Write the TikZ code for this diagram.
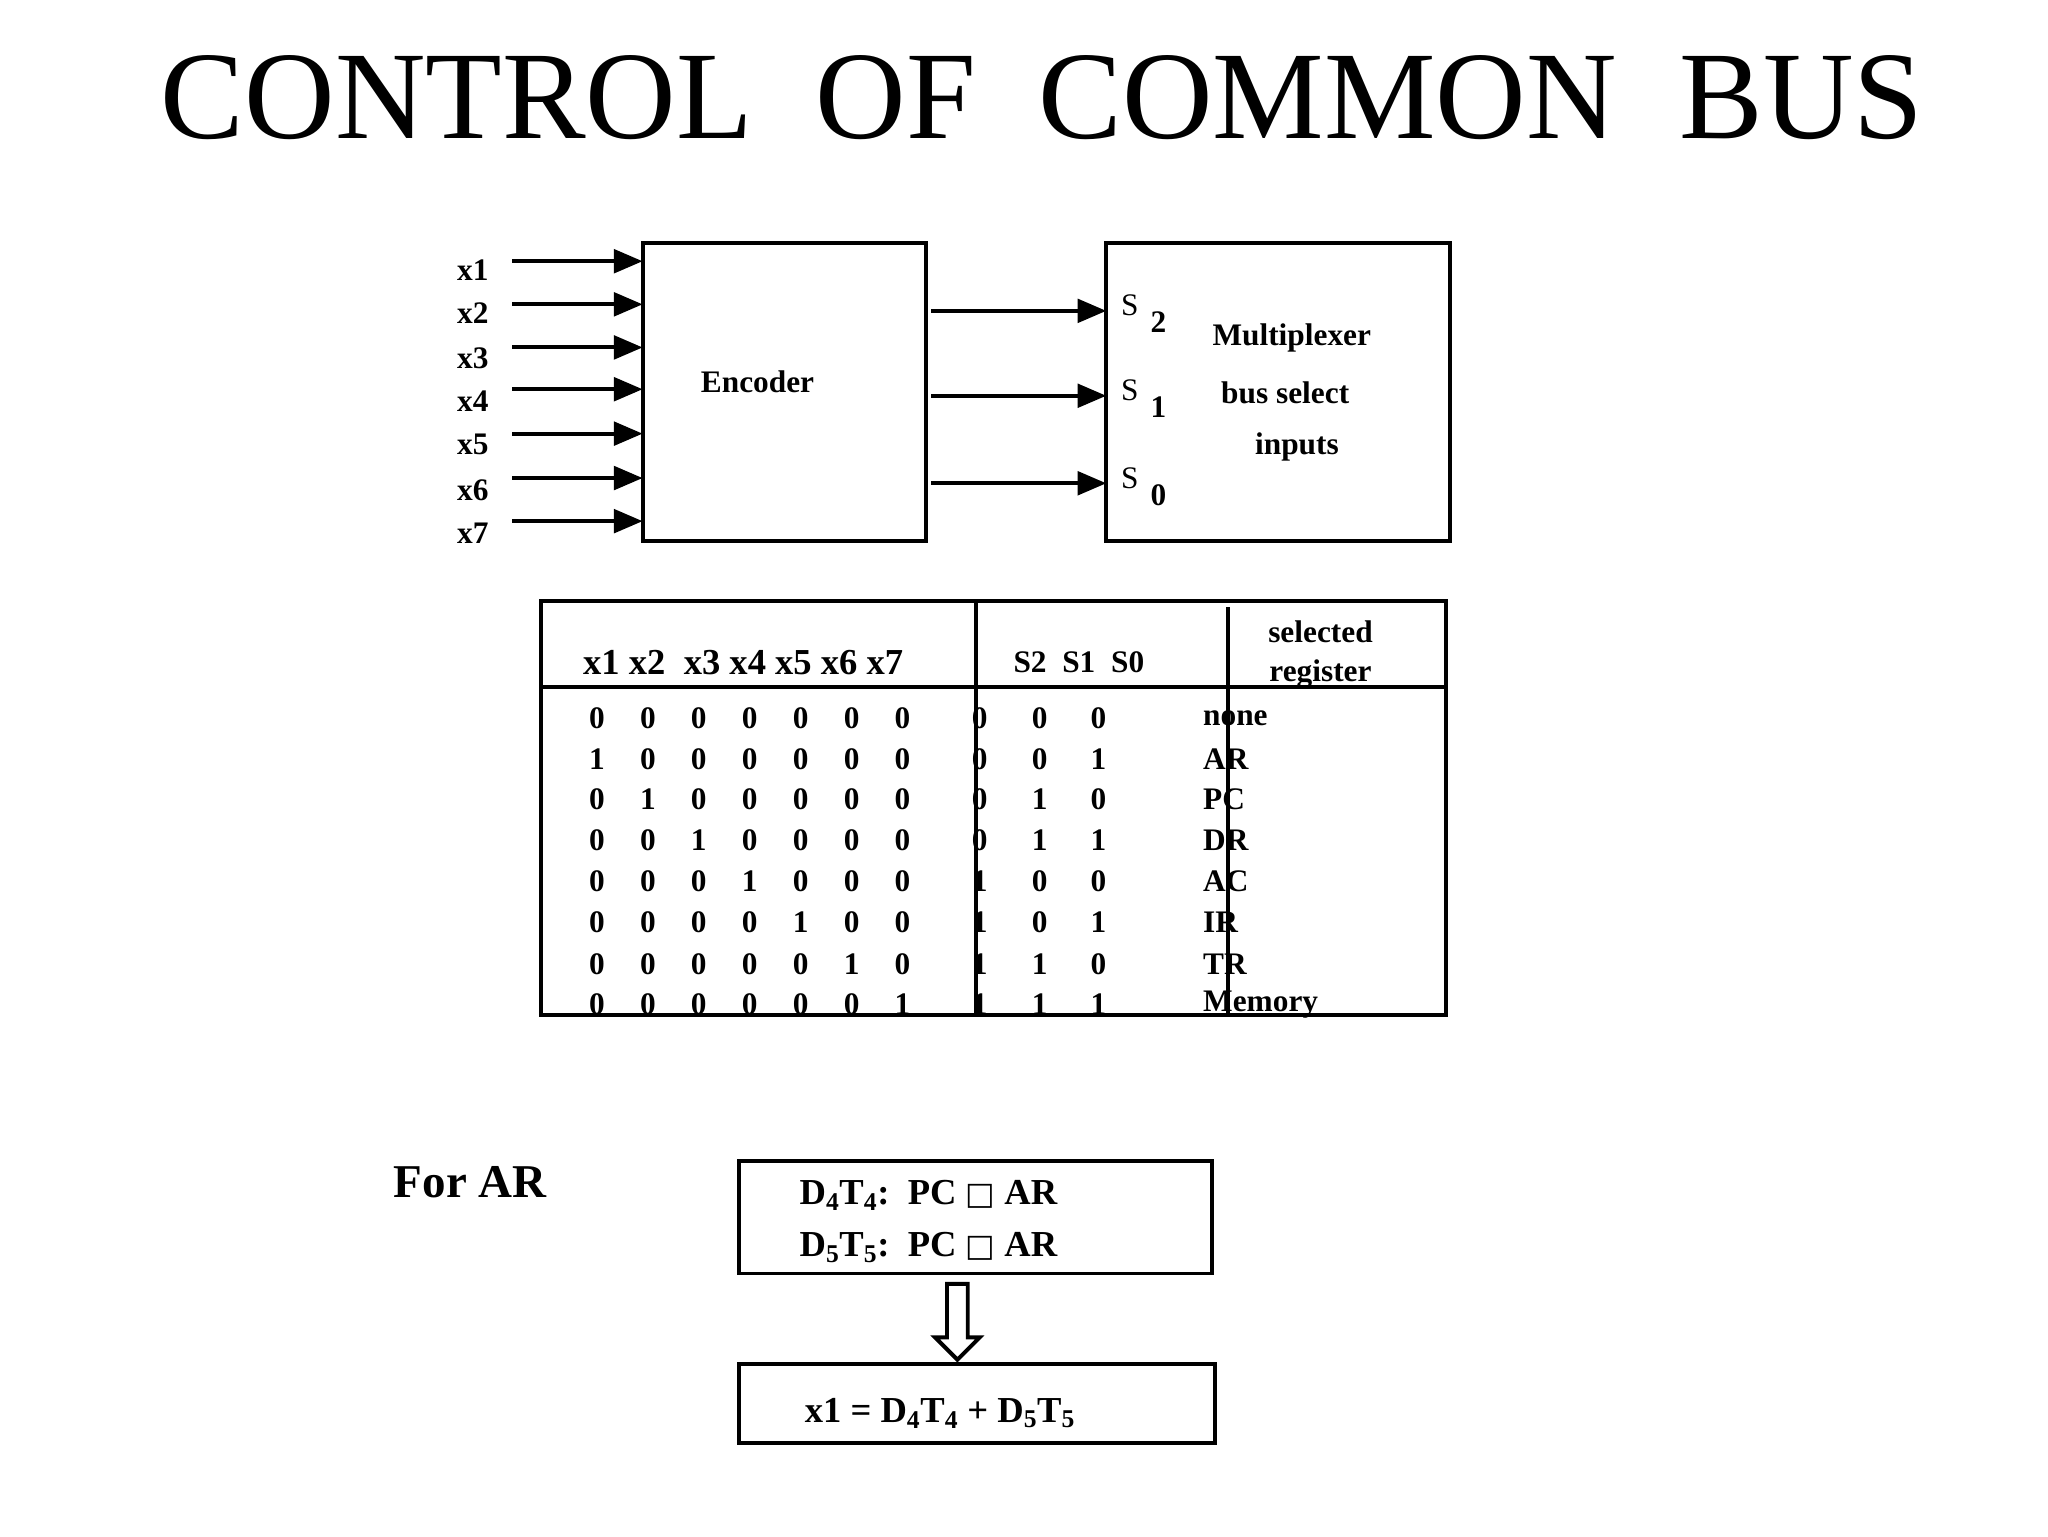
\documentclass[tikz,border=0pt]{standalone}
\usepackage{fontspec}
\setmainfont{Liberation Serif}
\newfontfamily\symf{DejaVu Sans}
\usetikzlibrary{arrows.meta,shapes.arrows}
\newcommand{\fs}[1]{\fontsize{#1}{#1}\selectfont}
\tikzset{box/.style={draw,line width=3pt},
 inarr/.style={line width=3pt,-{Triangle[length=22pt,width=18pt]}},
 bt/.style={font=\bfseries\fs{24}},
 dig/.style={font=\bfseries\fs{24}}}
\begin{document}
\begin{tikzpicture}[x=1pt,y=-1pt]
\useasboundingbox[fill=white] (0,0) rectangle (1568,1176);
\node[font=\fs{96}] (title) at (798,75) {CONTROL\ \ OF\ \ COMMON\ \ BUS};
\draw[box] (492,186) rectangle (709,414);
\node[bt] (enc) at (580,292) {Encoder};
\draw[box] (847,186) rectangle (1110,414);
\foreach \i/\y/\ly in {1/200/207,2/233/240,3/266/274,4/298/307,5/332/340,6/366/375,7/399/408}{
  \node[bt] (x\i) at (362,\ly) {x\i};
  \coordinate (a\i) at (392,\y);
  \coordinate (b\i) at (492,\y);
  \draw[inarr] (a\i) -- (b\i);
}
\foreach \s/\y in {2/238,1/303,0/370}{
  \coordinate (c\s) at (713,\y);
  \coordinate (d\s) at (847,\y);
  \draw[inarr] (c\s) -- (d\s);
  \node[font=\fs{24}] (S\s) at (865,\y-4) {S};
  \node[bt] (n\s) at (887,\y+9) {\s};
}
\node[bt] (m1) at (989,259) {Multiplexer};
\node[bt] (m2) at (984,301) {bus select};
\node[bt] (m3) at (993,342) {inputs};
% table
\node[font=\bfseries\fs{28}] (h1) at (569,507) {x1 x2\ \ x3 x4 x5 x6 x7};
\node[bt] (h2) at (826,507) {S2\ \ S1\ \ S0};
\node[bt] (h3) at (1011,484) {selected};
\node[bt] (h4) at (1011,516) {register};
\foreach \r/\y/\nm [count=\k from 0] in {0/550/none,1/581/AR,2/612/PC,3/643/DR,4/675/AC,5/706/IR,6/738/TR,7/769/Memory}{
  \foreach \c/\x in {1/457,2/496,3/535,4/574,5/613,6/652,7/691}{
    \pgfmathtruncatemacro\v{(\c==\k)?1:0}
    \node[dig] at (\x,\y) {\v};
  }
  \pgfmathtruncatemacro\sa{int(\k/4)}
  \pgfmathtruncatemacro\sb{mod(int(\k/2),2)}
  \pgfmathtruncatemacro\sc{mod(\k,2)}
  \node[dig] at (750,\y) {\sa};
  \node[dig] at (796,\y) {\sb};
  \node[dig] at (841,\y) {\sc};
  \node[dig,anchor=west,inner sep=0] at (921,\y) {\nm};
}
\fill[white] (400,776) rectangle (920,790);
\draw[box] (414,460) rectangle (1107,777);
\draw[line width=3pt] (747,460) -- (747,777);
\draw[line width=3pt] (940,465) -- (940,777);
\draw[line width=3pt] (414,526) -- (1107,526);
% bottom
\node[font=\bfseries\fs{36}] (for) at (360,905) {For AR};
\draw[box] (566,889) rectangle (928,975);
\node[font=\bfseries\fs{28},anchor=west,inner sep=0] (e1) at (612,915) {D\textsubscript{4}T\textsubscript{4}:\ \ PC {\symf\mdseries\fs{24}□} AR};
\node[font=\bfseries\fs{28},anchor=west,inner sep=0] (e2) at (612,955) {D\textsubscript{5}T\textsubscript{5}:\ \ PC {\symf\mdseries\fs{24}□} AR};
\node[draw,line width=3pt,single arrow,shape border rotate=270,minimum width=34pt,single arrow head extend=4pt,minimum height=58pt,inner sep=2pt] (arr) at (733,1008) {};
\draw[box] (566,1044) rectangle (930,1105);
\node[font=\bfseries\fs{28},anchor=west,inner sep=0] (eq) at (616,1082) {x1 = D\textsubscript{4}T\textsubscript{4} + D\textsubscript{5}T\textsubscript{5}};
\end{tikzpicture}
\end{document}
